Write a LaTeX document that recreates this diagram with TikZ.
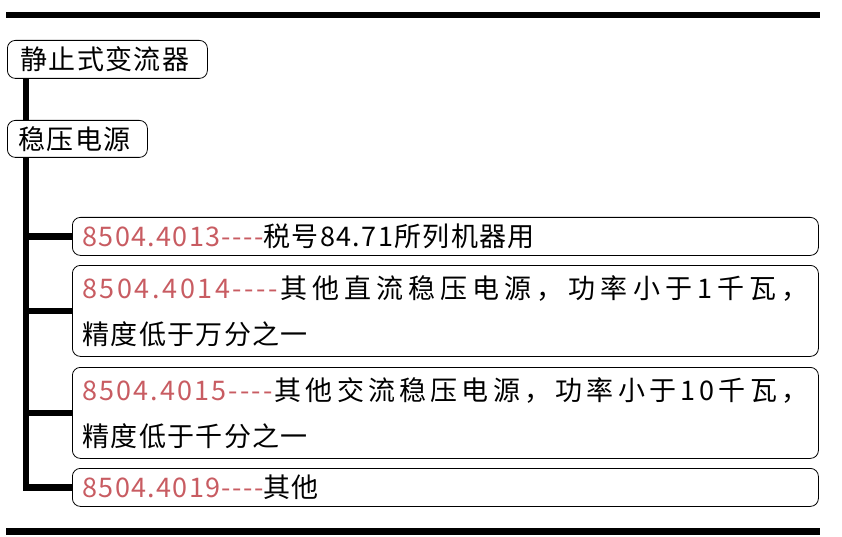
\documentclass[tikz,border=0pt]{standalone}
\usepackage{fontspec}
\newfontfamily\cjk[LetterSpace=5,Ligatures=TeXOff]{Noto Sans CJK SC}
\definecolor{rougecode}{RGB}{200,92,98}
\newcommand\etale[2][1]{\def\etalefil{#1}\etaleboucle#2\relax}
\def\etaleboucle#1{\ifx\relax#1\else#1\hskip0pt plus \etalefil fil\relax\expandafter\etaleboucle\fi}
\newcommand\code[1]{{\color{rougecode}#1}}
\begin{document}
\begin{tikzpicture}[x=1pt,y=-1pt,
  boite/.style={draw, line width=0.8pt, rounded corners=8pt, anchor=north west, inner ysep=0pt, align=left, font=\cjk\fontsize{27}{46}\selectfont},
  ligne/.style={boite, text width=726pt, inner xsep=10pt},
  tronc/.style={line width=6.5pt}]
\useasboundingbox (0,0) rectangle (842,537);
\fill (6,12) rectangle (820,18);
\fill (6,528) rectangle (820,535);
\node[boite, text width=174pt, inner xsep=13pt, minimum height=38pt](T1)at(7,40){静止式变流器};
\node[boite, text width=118pt, inner xsep=11pt, minimum height=37pt](T2)at(7,120){稳压电源};
\node[ligne, minimum height=38pt](L1)at(72,217){\code{8504.4013----}税号84.71所列机器用};
\node[ligne, minimum height=91pt](L2)at(72,265){\makebox[\linewidth][s]{\code{\etale[0.5]{8504.4014----}}\etale{其他直流稳压电源，功率小于1千瓦，}\unskip}\\精度低于万分之一};
\node[ligne, minimum height=91pt](L3)at(72,367){\makebox[\linewidth][s]{\code{\etale[0.5]{8504.4015----}}\etale{其他交流稳压电源，功率小于10千瓦，}\unskip}\\精度低于千分之一};
\node[ligne, minimum height=38pt](L4)at(72,468){\code{8504.4019----}其他};
% tronc et branches
\draw[tronc]([xshift=19pt]T1.south west)--([xshift=19pt]T2.north west);
\coordinate (R) at ([xshift=19pt]T2.south west);
\draw[tronc](R)|-(L4.west);
\foreach \n in {1,2,3}\draw[tronc](L\n.west)--(L\n.west-|R);
\end{tikzpicture}
\end{document}
